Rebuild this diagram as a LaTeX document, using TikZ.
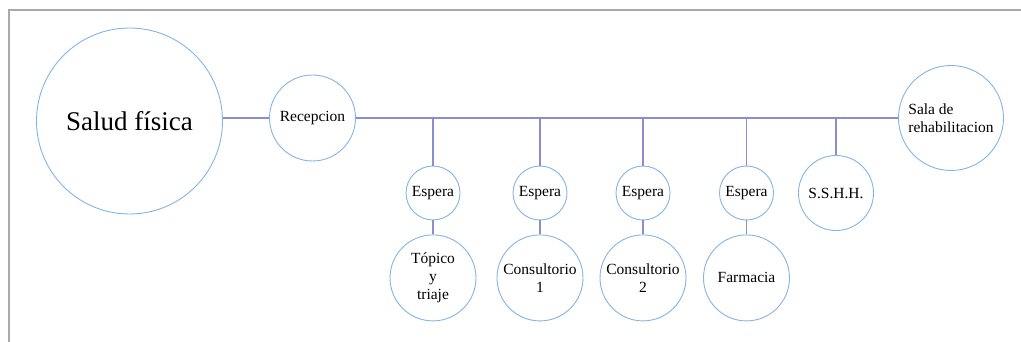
\documentclass[tikz,border=0pt]{standalone}
\usepackage{fontspec}
\setmainfont{Liberation Serif}
\newfontfamily\diagfont{Liberation Serif}
\usepackage{tikz}
\usetikzlibrary{positioning}
\definecolor{ringblue}{RGB}{130,180,230}
\definecolor{linkviolet}{RGB}{140,140,208}
\definecolor{framegray}{RGB}{170,170,170}
\tikzset{
  bigcirc/.style={circle, draw=ringblue, line width=0.9pt, inner sep=0pt,
                  minimum size=186pt, font=\diagfont\fontsize{27}{30}\selectfont},
  roomcirc/.style={circle, draw=ringblue, line width=0.9pt, inner sep=0pt,
                   minimum size=86pt, align=center,
                   font=\diagfont\fontsize{15.5}{18}\selectfont},
  waitcirc/.style={roomcirc, minimum size=54pt},
  link/.style={draw=linkviolet, line width=1.2pt},
}
\begin{document}
\begin{tikzpicture}[x=1pt, y=-1pt]

  \useasboundingbox (0,0) rectangle (1021,342);
  \draw[framegray, line width=2pt] (1021,10.5) -- (8.5,10.5) -- (8.5,342);

  \node[bigcirc]  (salud) at (129.5,121) {Salud física};
  \node[roomcirc] (recep) at (312.5,118) {Recepcion};
  \node[roomcirc, minimum size=105pt, align=left] (sala) at (951,118) {Sala de\\rehabilitacion};

  \node[waitcirc] (esp1) at (433,193)   {Espera};
  \node[waitcirc] (esp2) at (540,193)   {Espera};
  \node[waitcirc] (esp3) at (643,193)   {Espera};
  \node[waitcirc] (esp4) at (746.5,193) {Espera};
  \node[roomcirc, minimum size=75pt] (sshh) at (836,193) {S.S.H.H.};

  \node[roomcirc, below=14pt of esp1] (topico) {Tópico\\y\\triaje};
  \node[roomcirc, below=14pt of esp2] (cons1)  {Consultorio\\1};
  \node[roomcirc, below=14pt of esp3] (cons2)  {Consultorio\\2};
  \node[roomcirc, below=14pt of esp4] (farma)  {Farmacia};

  \coordinate (br1) at (esp1 |- recep);
  \coordinate (br2) at (esp2 |- recep);
  \coordinate (br3) at (esp3 |- recep);
  \coordinate (br4) at (esp4 |- recep);
  \coordinate (br5) at (sshh |- recep);

  \draw[link] (recep.west) -- (recep.west -| salud.east);
  \draw[link] (recep) -- (sala);
  \draw[link] (br1) -- (esp1);
  \draw[link] (br2) -- (esp2);
  \draw[link] (br3) -- (esp3);
  \draw[link] (br4) -- (esp4);
  \draw[link] (br5) -- (sshh);
  \draw[link] (esp1) -- (topico);
  \draw[link] (esp2) -- (cons1);
  \draw[link] (esp3) -- (cons2);
  \draw[link] (esp4) -- (farma);

\end{tikzpicture}
\end{document}
